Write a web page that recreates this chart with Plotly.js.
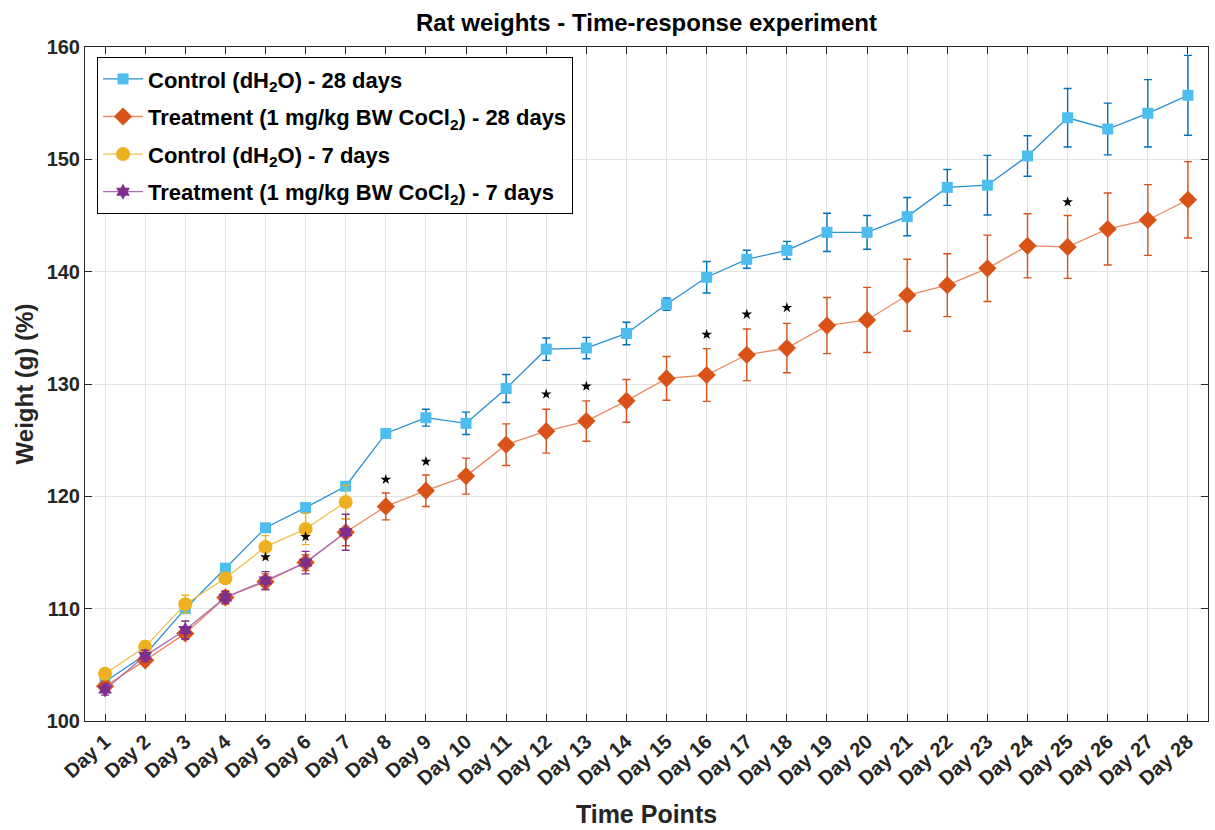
<!DOCTYPE html>
<html>
<head>
<meta charset="utf-8">
<script src="https://cdn.plot.ly/plotly-3.0.1.min.js"></script>
<style>html,body{margin:0;padding:0;background:#fff}#chart{width:1215px;height:830px}</style>
</head>
<body>
<div id="chart"></div>
<script>
const days = Array.from({length: 28}, (_, i) => 'Day ' + (i + 1));
const days7 = days.slice(0, 7);

const control28 = [103.5, 105.9, 110.0, 113.6, 117.2, 119.0, 120.9, 125.6, 127.0, 126.5, 129.6, 133.1, 133.2, 134.5,
  137.1, 139.5, 141.1, 141.9, 143.5, 143.5, 144.9, 147.5, 147.7, 150.3, 153.7, 152.7, 154.1, 155.7];
const control28Err = [0.4, 0.4, 0.4, 0.4, 0.3, 0.3, 0.3, 0.4, 0.75, 1.0, 1.25, 1.0, 0.95, 1.0,
  0.55, 1.4, 0.8, 0.8, 1.7, 1.5, 1.7, 1.6, 2.65, 1.8, 2.6, 2.3, 3.0, 3.55];

const treat28 = [103.1, 105.4, 107.8, 111.0, 112.4, 114.1, 116.8, 119.1, 120.5, 121.8, 124.6, 125.8, 126.7, 128.5,
  130.5, 130.8, 132.6, 133.2, 135.2, 135.7, 137.9, 138.8, 140.3, 142.3, 142.2, 143.8, 144.6, 146.4];
const treat28Err = [0.4, 0.4, 0.5, 0.6, 0.7, 0.7, 1.2, 1.2, 1.4, 1.6, 1.85, 1.95, 1.8, 1.9,
  1.95, 2.35, 2.3, 2.2, 2.5, 2.9, 3.2, 2.8, 2.95, 2.85, 2.8, 3.2, 3.15, 3.4];

const control7 = [104.2, 106.6, 110.4, 112.7, 115.5, 117.1, 119.5];
const control7Err = [0.3, 0.5, 0.8, 0.3, 1.0, 1.4, 1.5];

const treat7 = [102.8, 105.8, 108.1, 111.0, 112.5, 114.1, 116.8];
const treat7Err = [0.5, 0.5, 0.8, 0.5, 0.8, 1.0, 1.6];

const starDays = ['Day 5', 'Day 6', 'Day 8', 'Day 9', 'Day 12', 'Day 13', 'Day 16', 'Day 17', 'Day 18', 'Day 25'];
const starY = [114.6, 116.4, 121.5, 123.1, 129.1, 129.8, 134.4, 136.2, 136.8, 146.2];

const FONT = 'Liberation Sans, Arial, sans-serif';

function series(name, group, x, y, err, lineColor, barColor, symbol, mcolor, msize) {
  return {
    type: 'scatter', mode: 'lines+markers', name: name, legendgroup: group, x: x, y: y,
    line: {color: lineColor, width: 1.3},
    marker: {symbol: symbol, color: mcolor, size: msize, line: {width: 0}},
    error_y: {type: 'data', array: err, visible: true, color: barColor, thickness: 1.4, width: 4}
  };
}

const traces = [
  series('Control (dH<sub>2</sub>O) - 28 days', 'g1', days, control28, control28Err,
    '#2a8fd0', '#0072BD', 'square', '#4DBEEE', 11),
  series('Treatment (1 mg/kg BW CoCl<sub>2</sub>) - 28 days', 'g2', days, treat28, treat28Err,
    '#ea8a60', '#D95319', 'diamond', '#D95319', 14),
  series('Control (dH<sub>2</sub>O) - 7 days', 'g3', days7, control7, control7Err,
    '#f0c250', '#EDB120', 'circle', '#EDB120', 14),
  series('Treatment (1 mg/kg BW CoCl<sub>2</sub>) - 7 days', 'g4', days7, treat7, treat7Err,
    '#a96bb5', '#7E2F8E', 'hexagram', '#7E2F8E', 12),
  {
    type: 'scatter', mode: 'markers', x: starDays, y: starY, showlegend: false,
    marker: {symbol: 'star', color: '#000', size: 8, line: {width: 0}}, hoverinfo: 'skip'
  }
];

const layout = {
  width: 1215, height: 830,
  margin: {l: 85, r: 7, t: 47, b: 109},
  paper_bgcolor: '#fff', plot_bgcolor: '#fff',
  font: {family: FONT, color: '#262626'},
  title: {text: '<b>Rat weights - Time-response experiment</b>', font: {size: 24, color: '#000', family: FONT},
    x: 0.5, xref: 'paper', y: 0.973, yref: 'container', yanchor: 'middle'},
  xaxis: {
    type: 'category', range: [-0.5, 27.5],
    tickangle: -42, ticks: 'inside', ticklen: 7, tickcolor: '#262626',
    tickfont: {size: 20, color: '#262626', family: FONT, weight: 'bold'},
    showline: true, linecolor: '#262626', linewidth: 1, mirror: 'ticks',
    showgrid: true, gridcolor: '#e3e3e3', gridwidth: 1, zeroline: false,
    title: {text: '<b>Time Points</b>', font: {size: 25, color: '#262626', family: FONT}, standoff: 16}
  },
  yaxis: {
    range: [100, 160], dtick: 10, ticks: 'inside', ticklen: 7, tickcolor: '#262626',
    tickfont: {size: 20, color: '#262626', family: FONT, weight: 'bold'},
    showline: true, linecolor: '#262626', linewidth: 1, mirror: 'ticks',
    showgrid: true, gridcolor: '#e3e3e3', gridwidth: 1, zeroline: false,
    title: {text: '<b>Weight (g) (%)</b>', font: {size: 24, color: '#262626', family: FONT}, standoff: 6}
  },
  legend: {
    x: 0.0107, y: 0.985, xanchor: 'left', yanchor: 'top',
    bgcolor: '#fff', bordercolor: '#000', borderwidth: 1,
    font: {size: 22, color: '#000', family: FONT, weight: 'bold'},
    itemwidth: 40, tracegroupgap: 6
  },
  showlegend: true
};

Plotly.newPlot('chart', traces, layout, {displayModeBar: false, staticPlot: true});
</script>
</body>
</html>
